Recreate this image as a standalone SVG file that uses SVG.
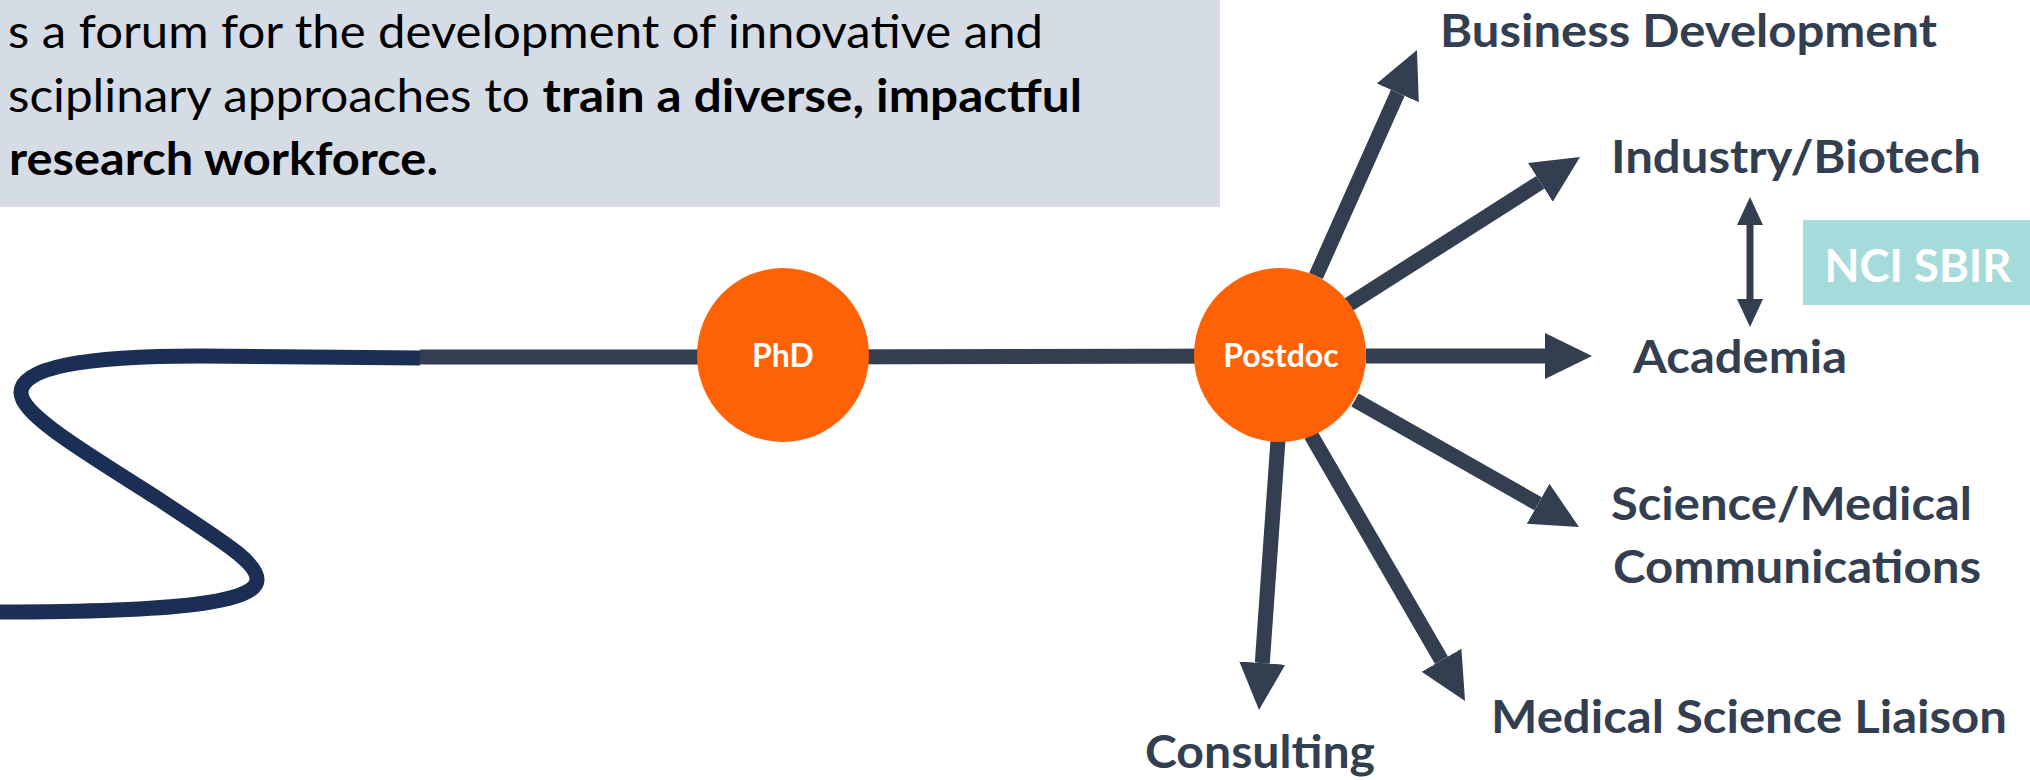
<svg xmlns="http://www.w3.org/2000/svg" width="2030" height="780" viewBox="0 0 2030 780">
<style>
.intro{font-family:Lato,"Open Sans","Liberation Sans",sans-serif;font-size:46px;fill:#000}
.b{font-weight:bold}
.lbl{font-family:Lato,"Open Sans","Liberation Sans",sans-serif;font-size:45px;font-weight:bold;fill:#333F50}
.node{fill:#FF6105}
.ntxt{font-family:Lato,"Open Sans","Liberation Sans",sans-serif;font-size:32px;font-weight:bold;fill:#fff;text-anchor:middle}
.conn{stroke:#333F50;stroke-width:15;fill:none}
.head{fill:#333F50}
</style>
<defs>
<marker id="ah" markerUnits="userSpaceOnUse" markerWidth="48" markerHeight="48" refX="0" refY="23" orient="auto" viewBox="0 0 48 46">
<path d="M0,0 L47,23 L0,46 Z" class="head"/>
</marker>
<marker id="sh" markerUnits="userSpaceOnUse" markerWidth="28" markerHeight="26" refX="0" refY="13" orient="auto-start-reverse" viewBox="0 0 28 26">
<path d="M0,0 L28,13 L0,26 Z" class="head"/>
</marker>
</defs>

<g id="intro-box">
<rect x="0" y="0" width="1220" height="207" fill="#D6DCE5"/>
<text class="intro" x="8" y="48" textLength="1035" lengthAdjust="spacingAndGlyphs">s a forum for the development of innovative and</text>
<text class="intro" x="8" y="112" textLength="1074" lengthAdjust="spacingAndGlyphs">sciplinary approaches to <tspan class="b">train a diverse, impactful</tspan></text>
<text class="intro b" x="9" y="175" textLength="429" lengthAdjust="spacingAndGlyphs">research workforce.</text>
</g>

<g id="connectors">
<path id="path-curve" d="M420,358 L200,356 C80,356 22,368 21,392 C20,415 90,455 160,500 C220,540 258,562 257,580 C256,602 180,612 0,612" fill="none" stroke="#1B2F55" stroke-width="15"/>
<line class="conn" x1="420" y1="357" x2="783" y2="357"/>
<line class="conn" x1="783" y1="357" x2="1280" y2="356"/>
<line class="conn" x1="1316" y1="276" x2="1397.8" y2="92.9" marker-end="url(#ah)"/>
<line class="conn" x1="1348" y1="305" x2="1540.4" y2="182.3" marker-end="url(#ah)"/>
<line class="conn" x1="1366" y1="356" x2="1545" y2="356" marker-end="url(#ah)"/>
<line class="conn" x1="1355" y1="400" x2="1538.1" y2="503.8" marker-end="url(#ah)"/>
<line class="conn" x1="1311" y1="435" x2="1441.5" y2="660.3" marker-end="url(#ah)"/>
<line class="conn" x1="1278" y1="440" x2="1262.3" y2="663.1" marker-end="url(#ah)"/>
<line x1="1750" y1="225" x2="1750" y2="299" stroke="#333F50" stroke-width="7" marker-start="url(#sh)" marker-end="url(#sh)"/>
</g>

<g id="node-phd">
<ellipse class="node" cx="783" cy="355" rx="86" ry="87"/>
<text class="ntxt" x="783" y="367">PhD</text>
</g>
<g id="node-postdoc">
<ellipse class="node" cx="1280" cy="355" rx="86" ry="87"/>
<text class="ntxt" x="1281" y="367">Postdoc</text>
</g>

<g id="node-business">
<text class="lbl" x="1440" y="47" textLength="497" lengthAdjust="spacingAndGlyphs">Business Development</text>
</g>
<g id="node-industry">
<text class="lbl" x="1611" y="173" textLength="370" lengthAdjust="spacingAndGlyphs">Industry/Biotech</text>
</g>
<g id="node-academia">
<text class="lbl" x="1633" y="373" textLength="214" lengthAdjust="spacingAndGlyphs">Academia</text>
</g>
<g id="node-scimed">
<text class="lbl" x="1611" y="520" textLength="361" lengthAdjust="spacingAndGlyphs">Science/Medical</text>
<text class="lbl" x="1613" y="583" textLength="368" lengthAdjust="spacingAndGlyphs">Communications</text>
</g>
<g id="node-msl">
<text class="lbl" x="1491" y="733" textLength="516" lengthAdjust="spacingAndGlyphs">Medical Science Liaison</text>
</g>
<g id="node-consulting">
<text class="lbl" x="1145" y="768" textLength="230" lengthAdjust="spacingAndGlyphs">Consulting</text>
</g>
<g id="node-nci">
<rect x="1803" y="220" width="227" height="85" fill="#A6DBDC"/>
<text x="1918" y="282" font-family="Lato,'Open Sans','Liberation Sans',sans-serif" font-size="45" font-weight="bold" fill="#fff" text-anchor="middle" textLength="187" lengthAdjust="spacingAndGlyphs">NCI SBIR</text>
</g>
</svg>
